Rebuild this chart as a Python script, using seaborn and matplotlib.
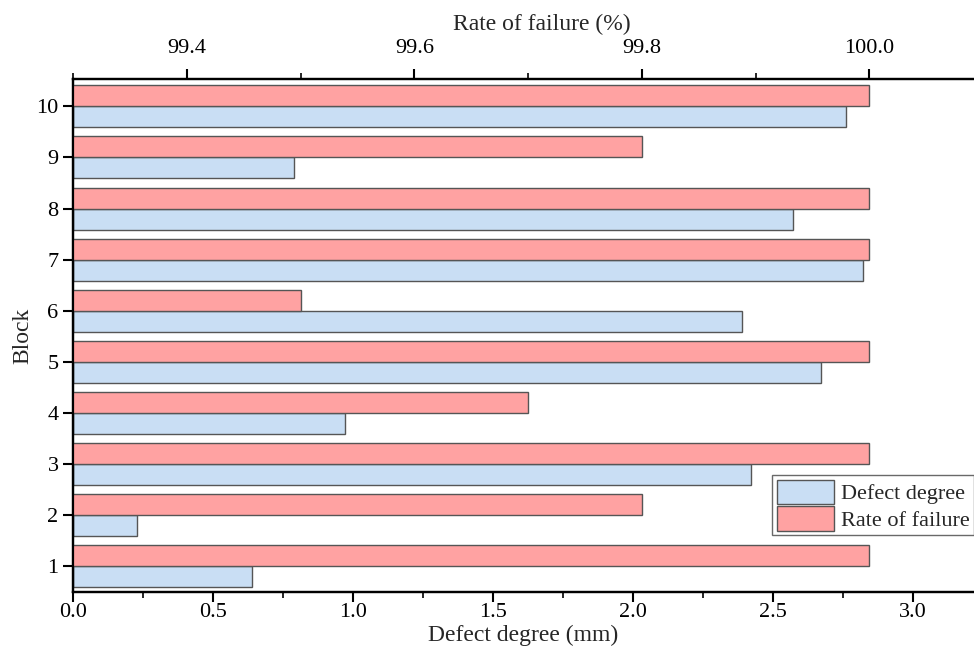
import pandas as pd
import matplotlib.pyplot as plt
import seaborn as sns
from matplotlib.patches import Patch
from matplotlib.ticker import MultipleLocator

blocks = [1, 2, 3, 4, 5, 6, 7, 8, 9, 10]
defect_degree = [0.64, 0.23, 2.42, 0.97, 2.67, 2.39, 2.82, 2.57, 0.79, 2.76]
rate_of_failure = [100.0, 99.8, 100.0, 99.7, 100.0, 99.5, 100.0, 100.0, 99.8, 100.0]

series = ['Rate of failure', 'Defect degree']
colors = {'Defect degree': '#C9DEF4', 'Rate of failure': '#FFA2A2'}

df_defect = pd.DataFrame({'Block': blocks, 'value': defect_degree, 'series': 'Defect degree'})
df_rate = pd.DataFrame({'Block': blocks, 'value': rate_of_failure, 'series': 'Rate of failure'})

sns.set_style('ticks')
plt.rcParams['font.family'] = ['Liberation Serif', 'DejaVu Serif']

fig = plt.figure(figsize=(9.74, 6.6), dpi=100)
ax = fig.add_axes([0.075, 0.103, 0.925, 0.777])
ax2 = ax.twiny()

order = blocks[::-1]
sns.barplot(data=df_defect, y='Block', x='value', hue='series', hue_order=series,
            order=order, orient='h', palette=colors, saturation=1, dodge=True, width=0.82,
            edgecolor='#555555', linewidth=1.0, legend=False, ax=ax)
sns.barplot(data=df_rate, y='Block', x='value', hue='series', hue_order=series,
            order=order, orient='h', palette=colors, saturation=1, dodge=True, width=0.82,
            edgecolor='#555555', linewidth=1.0, legend=False, ax=ax2)

ax.set_xlim(0, 3.218)
ax2.set_xlim(99.3, 100.092)
ax.set_ylim(9.5, -0.53)

ax.xaxis.set_major_locator(MultipleLocator(0.5))
ax.xaxis.set_minor_locator(MultipleLocator(0.25))
ax.xaxis.set_major_formatter(plt.FormatStrFormatter('%.1f'))
ax2.xaxis.set_major_locator(MultipleLocator(0.2))
ax2.xaxis.set_minor_locator(MultipleLocator(0.1))
ax2.xaxis.set_major_formatter(plt.FormatStrFormatter('%.1f'))

for a in (ax, ax2):
    a.tick_params(which='major', length=7, width=1.5, labelsize=16, direction='out', colors='black')
    a.tick_params(which='minor', length=4, width=1.2, direction='out', colors='black')
    for s in a.spines.values():
        s.set_linewidth(1.6)
        s.set_color('black')
    a.spines['right'].set_visible(False)
ax2.tick_params(axis='x', which='major', pad=8)
ax.tick_params(axis='x', which='major', pad=1)

ax.set_xlabel('Defect degree (mm)', fontsize=17)
ax2.set_xlabel('Rate of failure (%)', fontsize=17)
ax.set_ylabel('Block', fontsize=17, labelpad=2)
ax2.set_ylabel('')
ax.xaxis.set_label_coords(0.5, -0.063)
ax2.xaxis.set_label_coords(0.52, 1.095)

handles = [Patch(facecolor=colors['Defect degree'], edgecolor='#555555', linewidth=1.0),
           Patch(facecolor=colors['Rate of failure'], edgecolor='#555555', linewidth=1.0)]
leg = ax2.legend(handles, ['Defect degree', 'Rate of failure'], loc='upper left',
                 bbox_to_anchor=(0.776, 0.228), fontsize=16, frameon=True,
                 fancybox=False, edgecolor='#444444', handlelength=2.6,
                 handleheight=1.3, handletextpad=0.3, borderpad=0.2,
                 labelspacing=0.1, borderaxespad=0)
leg.get_frame().set_linewidth(1.0)

fig.savefig('out.png', dpi=100)
